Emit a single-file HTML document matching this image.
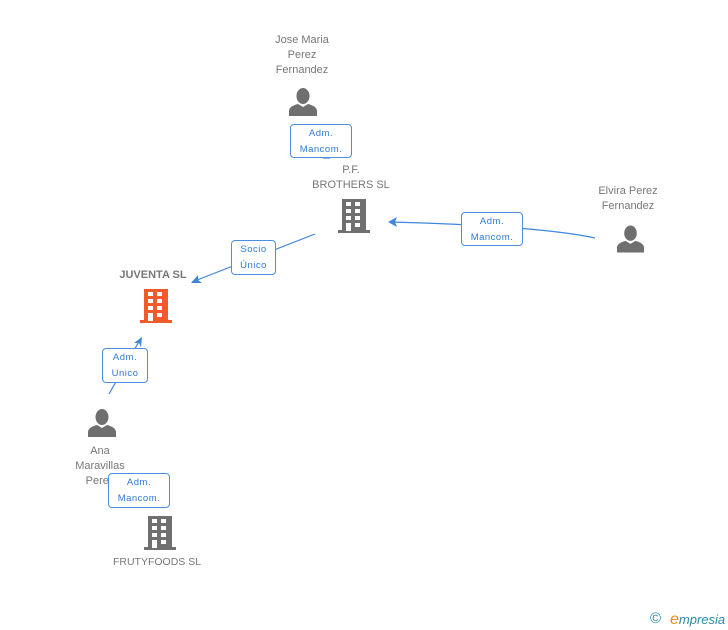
<!DOCTYPE html>
<html><head><meta charset="utf-8"><style>
body{margin:0;width:728px;height:630px;background:#fff;position:relative;overflow:hidden;font-family:"Liberation Sans",sans-serif}
.t{position:absolute;color:#777;font-size:11px;line-height:15px;text-align:center;white-space:nowrap}
.b{position:absolute;border:1px solid #4a8fe0;border-radius:4px;background:#fff;color:#2f7ad8;font-size:9.5px;line-height:16px;text-align:center;letter-spacing:0.5px;box-sizing:border-box;padding-top:1px}
svg{position:absolute;left:0;top:0}
</style></head><body>
<svg width="728" height="630">
<defs>
<symbol id="bld" viewBox="0 0 32 34"><path d="M4 0h24v32h-24z M0 31h32v3h-32z" fill="currentColor"/><g fill="#fff"><rect x="8" y="3" width="5" height="4"/><rect x="17" y="3" width="5" height="4"/><rect x="8" y="10" width="5" height="4"/><rect x="17" y="10" width="5" height="4"/><rect x="8" y="17" width="5" height="4"/><rect x="17" y="17" width="5" height="4"/><rect x="8" y="24" width="5" height="8"/><rect x="17" y="24" width="5" height="4"/></g></symbol>
<symbol id="per" viewBox="0 0 28 28"><ellipse cx="14" cy="8" rx="6.5" ry="8" fill="currentColor"/><path d="M0 28v-5c0-4 5-6 9-7l5 3 5-3c4 1 9 3 9 7v5z" fill="currentColor"/></symbol>
</defs>
<g stroke="#3f86de" stroke-width="1.2" fill="none">
<path d="M595 238 Q540 226 390 222"/>
<path d="M315 234 L192 282"/>
<path d="M109 394 L141 338"/>
<path d="M323 158 L330 158"/>
</g>
<g fill="#3f86de">
<path d="M388 222 l9 -5 l-2 5 l2 5z"/>
<path d="M191 283 l7 -8 l0 5 l4 3z"/>
<path d="M142 337 l-1 10 l-2 -4 l-5 0z"/>
</g>
<use href="#per" x="289" y="88" width="28" height="28" style="color:#6f6f6f"/>
<use href="#per" x="617" y="225" width="27" height="28" style="color:#6f6f6f"/>
<use href="#per" x="88" y="409" width="28" height="28" style="color:#6f6f6f"/>
<use href="#bld" x="338" y="199" width="32" height="34" style="color:#707070"/>
<use href="#bld" x="140" y="289" width="32" height="34" style="color:#f15a2b"/>
<use href="#bld" x="144" y="516" width="32" height="34" style="color:#707070"/>
</svg>
<div class="t" style="left:252px;top:33px;width:100px">Jose Maria<br>Perez<br>Fernandez</div>
<div class="t" style="left:301px;top:163px;width:100px">P.F.<br>BROTHERS SL</div>
<div class="t" style="left:578px;top:184px;width:100px">Elvira Perez<br>Fernandez</div>
<div class="t" style="left:103px;top:268px;width:100px;font-weight:bold">JUVENTA SL</div>
<div class="t" style="left:50px;top:444px;width:100px">Ana<br>Maravillas<br>Perez</div>
<div class="t" style="left:107px;top:555px;width:100px;font-size:10.5px">FRUTYFOODS SL</div>
<div class="b" style="left:290px;top:124px;width:62px;height:34px">Adm.<br>Mancom.</div>
<div class="b" style="left:461px;top:212px;width:62px;height:34px">Adm.<br>Mancom.</div>
<div class="b" style="left:231px;top:240px;width:45px;height:35px">Socio<br>Único</div>
<div class="b" style="left:102px;top:348px;width:46px;height:35px">Adm.<br>Unico</div>
<div class="b" style="left:108px;top:473px;width:62px;height:35px">Adm.<br>Mancom.</div>
<div style="position:absolute;left:650px;top:610px;font-size:15px;color:#2a8aa8">©</div>
<div style="position:absolute;left:670px;top:611px;font-size:13px;color:#2a8aa8;font-style:italic"><span style="color:#f08a1c;font-size:16px">e</span>mpresia</div>
</body></html>
